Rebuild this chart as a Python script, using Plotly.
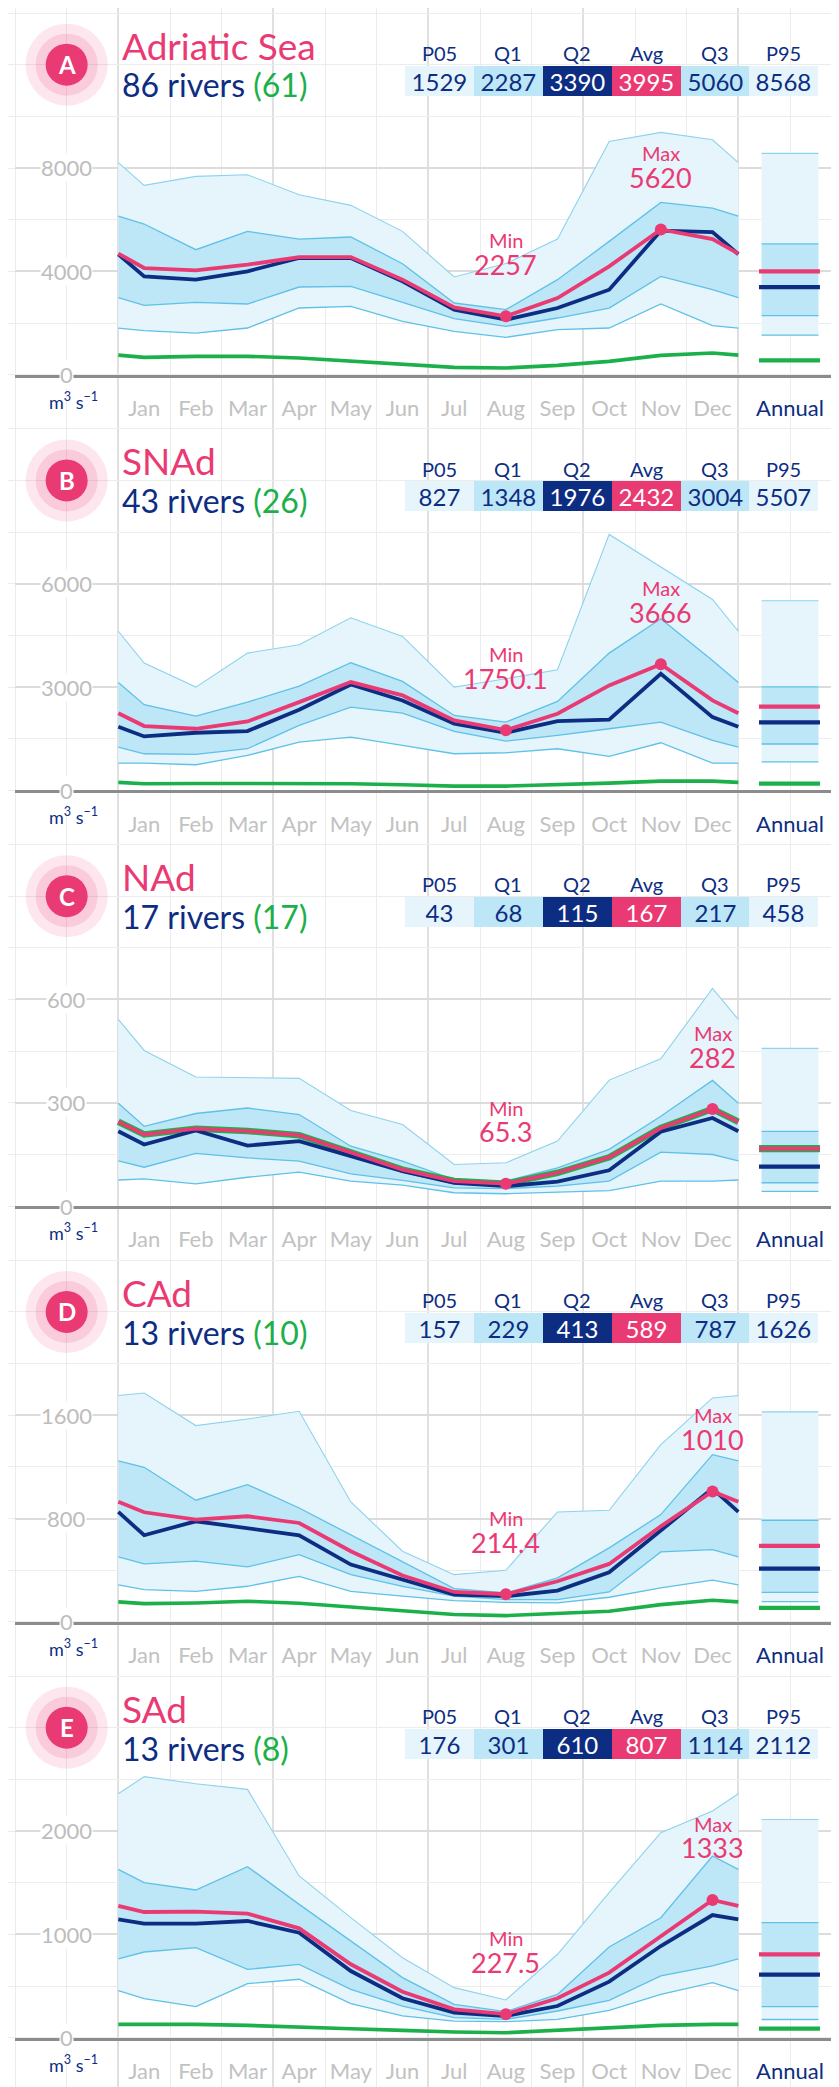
import plotly.graph_objects as go
import numpy as np

# ---------------- data ----------------
MONTHS = ["Jan", "Feb", "Mar", "Apr", "May", "Jun", "Jul", "Aug", "Sep", "Oct", "Nov", "Dec"]
STAT_LABELS = ["P05", "Q1", "Q2", "Avg", "Q3", "P95"]

LETTERS = ["A", "B", "C", "D", "E"]
NAMES = ["Adriatic Sea", "SNAd", "NAd", "CAd", "SAd"]
RIVERS = [86, 43, 17, 13, 13]
RIVERS_DATA = [61, 26, 17, 10, 8]
YTICKS = [[4000, 8000], [3000, 6000], [300, 600], [800, 1600], [1000, 2000]]
CELL_VALUE = [2000, 1500, 150, 400, 500]

# Panel A - Adriatic Sea
A_p05 = [1703, 1612, 1806, 2580, 2645, 2064, 1677, 1445, 1741, 1806, 2735, 1896]
A_q1 = [2683, 2799, 2735, 3393, 3419, 2799, 2167, 1871, 2193, 2580, 3806, 3290]
A_q2 = [3806, 3677, 4000, 4515, 4515, 3612, 2516, 2129, 2580, 3290, 5573, 5521]
A_avg = [4128, 4038, 4257, 4554, 4554, 3677, 2606, 2257, 2967, 4193, 5620, 5250]
A_q3 = [5831, 4838, 5547, 5250, 5328, 4296, 2774, 2516, 3677, 5160, 6669, 6450]
A_p95 = [7327, 7676, 7740, 6966, 6553, 5547, 3780, 4300, 5250, 9030, 9378, 9095]
A_green = [671, 710, 710, 645, 516, 387, 284, 258, 361, 516, 748, 839]
A_annual = [1529, 2287, 3390, 3995, 5060, 8568]
A_green_annual = 553

# Panel B - SNAd
B_p05 = [794, 745, 1016, 1403, 1548, 1306, 1064, 1094, 1210, 987, 1384, 794]
B_q1 = [1064, 1045, 1210, 1887, 2419, 2245, 1713, 1432, 1597, 1790, 1984, 1452]
B_q2 = [1568, 1674, 1723, 2342, 3077, 2613, 1935, 1674, 2013, 2052, 3387, 2129]
B_avg = [1868, 1790, 2003, 2564, 3145, 2758, 2032, 1750.1, 2226, 3048, 3666, 2613]
B_q3 = [2487, 2158, 2564, 3029, 3706, 3164, 2177, 1984, 2584, 3987, 4984, 3774]
B_p95 = [3697, 3000, 3987, 4229, 5013, 4471, 3000, 3242, 3503, 7432, 6484, 5545]
B_green = [194, 203, 203, 203, 194, 165, 126, 126, 165, 213, 271, 271]
B_annual = [827, 1348, 1976, 2432, 3004, 5507]
B_green_annual = 195

# Panel C - NAd
C_p05 = [79, 65, 84, 99, 73, 61, 39, 36, 41, 45, 73, 73]
C_q1 = [113, 153, 140, 131, 94, 75, 53, 51, 58, 73, 157, 150]
C_q2 = [179, 220, 176, 189, 145, 102, 68, 58, 71, 104, 216, 256]
C_avg = [208, 225, 218, 206, 155, 106, 73, 65.3, 97, 142, 227, 282]
C_q3 = [232, 269, 285, 266, 174, 131, 77, 73, 111, 165, 261, 365]
C_p95 = [452, 375, 373, 371, 278, 237, 121, 126, 189, 366, 428, 632]
C_green = [208, 225, 218, 206, 155, 106, 73, 65.3, 97, 142, 227, 282]
C_annual = [43, 68, 115, 167, 217, 458]
C_green_annual = 167

# Panel D - CAd
D_p05 = [250, 237, 276, 353, 237, 199, 165, 152, 147, 191, 263, 323]
D_q1 = [449, 470, 426, 521, 366, 276, 199, 173, 173, 232, 542, 560]
D_q2 = [671, 779, 728, 671, 444, 328, 212, 199, 243, 384, 707, 1032]
D_avg = [849, 792, 818, 766, 547, 359, 232, 214.4, 315, 449, 740, 1010]
D_q3 = [1197, 942, 1063, 882, 676, 470, 258, 224, 341, 573, 831, 1295]
D_p95 = [1772, 1520, 1571, 1631, 929, 547, 366, 400, 851, 864, 1373, 1734]
D_green = [142, 147, 160, 144, 114, 83, 57, 49, 65, 83, 134, 168]
D_annual = [157, 229, 413, 589, 787, 1626]
D_green_annual = 108

# Panel E - SAd
E_p05 = [377, 300, 523, 565, 329, 210, 161, 155, 177, 265, 419, 532]
E_q1 = [829, 871, 661, 710, 468, 306, 194, 177, 258, 361, 597, 694]
E_q2 = [1103, 1103, 1129, 1016, 645, 381, 242, 210, 306, 542, 887, 1187]
E_avg = [1216, 1219, 1200, 1058, 710, 445, 274, 227.5, 381, 629, 984, 1333]
E_q3 = [1500, 1429, 1655, 1290, 936, 581, 323, 252, 419, 877, 1161, 1758]
E_p95 = [2526, 2458, 2403, 1565, 1161, 774, 484, 365, 807, 1403, 1984, 2194]
E_green = [129, 129, 119, 106, 87, 71, 55, 48, 71, 97, 119, 129]
E_annual = [176, 301, 610, 807, 1114, 2112]
E_green_annual = 87

PANELS = [
    (A_p05, A_q1, A_q2, A_avg, A_q3, A_p95, A_green, A_annual, A_green_annual),
    (B_p05, B_q1, B_q2, B_avg, B_q3, B_p95, B_green, B_annual, B_green_annual),
    (C_p05, C_q1, C_q2, C_avg, C_q3, C_p95, C_green, C_annual, C_green_annual),
    (D_p05, D_q1, D_q2, D_avg, D_q3, D_p95, D_green, D_annual, D_green_annual),
    (E_p05, E_q1, E_q2, E_avg, E_q3, E_p95, E_green, E_annual, E_green_annual),
]

# ---------------- style / layout ----------------
W, H = 839, 2087
CELL = 51.6667
GX0, GY0 = 7.0, 5.0
PANEL_STEP = 415.75
FONT = "Lato"

PINK = "#ea3a73"
NAVY = "#0d2d82"
GREEN = "#1cb04a"
LIGHT = "#e5f5fb"
MEDIUM = "#bde6f6"
BANDLINE = "#5fc1e7"
TOPLINE = "#8ed2ee"
TICKGRAY = "#bdbdbd"
GREEN_W = [3.6, 3.6, 6.5, 3.6, 3.6]


def px(x):
    return x / W


def py(y):
    return 1 - y / H


def wrap(a):
    edge = (a[0] + a[-1]) / 2.0
    return [edge] + list(a) + [edge]


XM = [0.5] + list(range(1, 13)) + [12.5]
XA_BAND = [12.95, 14.05]
XA_LINE = [12.9, 14.08]
GRID_R = GX0 + 16 * CELL

fig = go.Figure()
layout = dict(
    width=W, height=H, margin=dict(l=0, r=0, t=0, b=0),
    paper_bgcolor="white", plot_bgcolor="rgba(0,0,0,0)",
    showlegend=False, font=dict(family=FONT),
)

# background page grid, in pixel units
tops = [GY0 + PANEL_STEP * k for k in range(5)]
hrows = [t + j * CELL for t in tops for j in range(8)] + [tops[-1] + 8 * CELL]
vcols = [GX0 + n * CELL for n in range(17)]
vmajor = [GX0 + (2 + 3 * j) * CELL for j in range(5)]
layout["xaxis"] = dict(
    domain=[0, 1], range=[0, W], tickmode="array", tickvals=vmajor,
    showgrid=True, gridcolor="#e0e0e0", gridwidth=2,
    minor=dict(tickmode="array", tickvals=vcols, showgrid=True, gridcolor="#ececec", gridwidth=1.3),
    showticklabels=False, zeroline=False, showline=False, ticks="",
)
layout["yaxis"] = dict(
    domain=[0, 1], range=[H, 0], tickmode="array", tickvals=hrows,
    showgrid=True, gridcolor="#ececec", gridwidth=1.3,
    showticklabels=False, zeroline=False, showline=False, ticks="",
)

# badges (markers on the page grid)
badge_y = [t + CELL for t in tops]
badge_x = [GX0 + CELL] * 5
for size, col in ((82, "rgba(236,64,120,0.13)"), (62, "rgba(236,64,120,0.16)"), (42, PINK)):
    fig.add_trace(go.Scatter(x=badge_x, y=badge_y, mode="markers", xaxis="x", yaxis="y",
                             marker=dict(size=size, color=col, line=dict(width=0)),
                             showlegend=False, hoverinfo="skip"))


def ann(**kw):
    d = dict(showarrow=False, xanchor="center", yanchor="middle")
    d.update(kw)
    return d


annotations = []

for k, (p05, q1, q2, avg, q3, p95, green, annual, green_ann) in enumerate(PANELS):
    xa = f"x{k + 2}"
    ya = f"y{k + 2}"
    top = tops[k]
    base = top + 7 * CELL
    cv = CELL_VALUE[k]

    layout[f"xaxis{k + 2}"] = dict(
        domain=[px(GX0), px(GRID_R)], range=[-1.5, 14.5],
        anchor=ya, showgrid=False, zeroline=False,
        showline=True, linecolor="#8c8c8c", linewidth=2.5,
        tickvals=list(range(1, 13)) + [13.5],
        ticktext=MONTHS + [f"<span style='color:{NAVY}'>Annual</span>"],
        ticks="", tickfont=dict(size=22, color="#c2c2c2", family=FONT),
        ticklabelstandoff=12,
    )
    layout[f"yaxis{k + 2}"] = dict(
        domain=[py(base), py(base - 6 * CELL)], range=[0, 6 * cv],
        anchor=xa, tickvals=YTICKS[k], showgrid=True, gridcolor="#dcdcdc",
        gridwidth=2, showticklabels=False, zeroline=False, showline=False, ticks="",
    )

    common = dict(xaxis=xa, yaxis=ya, mode="lines", showlegend=False, hoverinfo="skip")
    # monthly bands
    fig.add_trace(go.Scatter(x=XM, y=wrap(p05), line=dict(color=BANDLINE, width=1.3), **common))
    fig.add_trace(go.Scatter(x=XM, y=wrap(p95), fill="tonexty", fillcolor=LIGHT,
                             line=dict(color=TOPLINE, width=1.1), **common))
    fig.add_trace(go.Scatter(x=XM, y=wrap(q1), line=dict(color=BANDLINE, width=1.3), **common))
    fig.add_trace(go.Scatter(x=XM, y=wrap(q3), fill="tonexty", fillcolor=MEDIUM,
                             line=dict(color=BANDLINE, width=1.3), **common))
    # annual bands
    fig.add_trace(go.Scatter(x=XA_BAND, y=[annual[0]] * 2, line=dict(color=BANDLINE, width=1.3), **common))
    fig.add_trace(go.Scatter(x=XA_BAND, y=[annual[5]] * 2, fill="tonexty", fillcolor=LIGHT,
                             line=dict(color=TOPLINE, width=1.1), **common))
    fig.add_trace(go.Scatter(x=XA_BAND, y=[annual[1]] * 2, line=dict(color=BANDLINE, width=1.3), **common))
    fig.add_trace(go.Scatter(x=XA_BAND, y=[annual[4]] * 2, fill="tonexty", fillcolor=MEDIUM,
                             line=dict(color=BANDLINE, width=1.3), **common))
    # main lines
    fig.add_trace(go.Scatter(x=XM, y=wrap(green), line=dict(color=GREEN, width=GREEN_W[k]), **common))
    fig.add_trace(go.Scatter(x=XM, y=wrap(q2), line=dict(color=NAVY, width=3.8), **common))
    fig.add_trace(go.Scatter(x=XM, y=wrap(avg), line=dict(color=PINK, width=3.8), **common))
    fig.add_trace(go.Scatter(x=XA_LINE, y=[green_ann] * 2, line=dict(color=GREEN, width=GREEN_W[k] + 0.6), **common))
    fig.add_trace(go.Scatter(x=XA_LINE, y=[annual[2]] * 2, line=dict(color=NAVY, width=4.2), **common))
    fig.add_trace(go.Scatter(x=XA_LINE, y=[annual[3]] * 2, line=dict(color=PINK, width=4.2), **common))

    # min / max markers
    a = np.array(avg, dtype=float)
    imin, imax = int(np.argmin(a)), int(np.argmax(a))
    fig.add_trace(go.Scatter(x=[imin + 1, imax + 1], y=[a[imin], a[imax]], mode="markers",
                             marker=dict(color=PINK, size=12), xaxis=xa, yaxis=ya,
                             showlegend=False, hoverinfo="skip"))
    for idx, word in ((imin, "Min"), (imax, "Max")):
        annotations.append(ann(x=idx + 1, y=a[idx], xref=xa, yref=ya, text=word,
                               yshift=76, font=dict(size=20, color=PINK, family=FONT)))
        annotations.append(ann(x=idx + 1, y=a[idx], xref=xa, yref=ya, text=f"{a[idx]:g}",
                               yshift=52, font=dict(size=27, color=PINK, family=FONT)))

    # y tick labels (interrupting the grid lines)
    for tv in [0] + YTICKS[k]:
        annotations.append(ann(x=-0.5, y=tv, xref=xa, yref=ya, text=str(tv),
                               bgcolor="white", borderpad=0,
                               font=dict(size=22, color=TICKGRAY, family=FONT)))
    annotations.append(ann(x=px(65), y=py(base + 26), xref="paper", yref="paper",
                           text="m<sup>3</sup> s<sup>−1</sup>",
                           font=dict(size=18, color=NAVY, family=FONT)))

    # header: badge letter, title, river counts
    annotations.append(ann(x=badge_x[k], y=badge_y[k], xref="x", yref="y", text=f"<b>{LETTERS[k]}</b>",
                           font=dict(size=24, color="white", family=FONT)))
    annotations.append(ann(x=px(112), y=py(top + 32), xref="paper", yref="paper", text=NAMES[k],
                           xanchor="left", font=dict(size=37, color=PINK, family=FONT)))
    annotations.append(ann(x=px(112), y=py(top + 72), xref="paper", yref="paper",
                           text=f"<span style='color:{NAVY}'>{RIVERS[k]} rivers</span> "
                                f"<span style='color:{GREEN}'>({RIVERS_DATA[k]})</span>",
                           xanchor="left", font=dict(size=32, family=FONT)))

    # header: stats table (value cells are annotation boxes)
    box_w = 68.9
    bx0 = 397.0
    box_fill = [LIGHT, MEDIUM, NAVY, PINK, MEDIUM, LIGHT]
    txt_col = [NAVY, NAVY, "white", "white", NAVY, NAVY]
    for i, (lab, val) in enumerate(zip(STAT_LABELS, annual)):
        xc = bx0 + box_w * (i + 0.5)
        annotations.append(ann(x=px(xc), y=py(top + 40), xref="paper", yref="paper",
                               text=lab, font=dict(size=20, color=NAVY, family=FONT)))
        annotations.append(ann(x=px(xc), y=py(top + 67.5), xref="paper", yref="paper",
                               text=f"{val:g}", width=box_w, height=30,
                               bgcolor=box_fill[i], borderpad=0, borderwidth=0,
                               font=dict(size=24, color=txt_col[i], family=FONT)))

layout["annotations"] = annotations
fig.update_layout(**layout)
fig.write_html("out.html")
